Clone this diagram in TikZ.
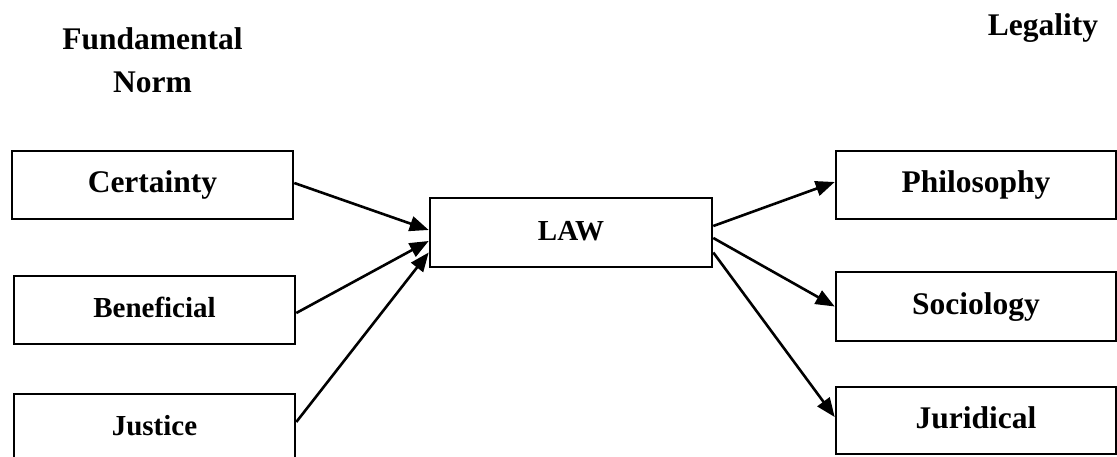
\documentclass[tikz,border=0pt]{standalone}
\usepackage{fontspec}
\setmainfont{Liberation Serif}
\usetikzlibrary{arrows.meta}
\begin{document}
\begin{tikzpicture}[x=1pt,y=-1pt,
  box/.style={draw,line width=2.6pt,inner sep=0pt,minimum width=281pt,minimum height=68pt,
    text height=22pt,text depth=6.5pt,font=\bfseries\fontsize{31.5}{38}\selectfont},
  smallbox/.style={box,font=\bfseries\fontsize{29}{35}\selectfont},
  head/.style={font=\bfseries\fontsize{31.5}{43}\selectfont,align=center},
  link/.style={line width=2.6pt,-{Triangle[length=19pt,width=15pt]}}]
\useasboundingbox (0,0) rectangle (1117,457);
% column headings
\node[head,anchor=base] (fn) at (152.5,93) {Fundamental\\Norm};
\node[head,anchor=base] (leg) at (1043,36) {Legality};
% left column
\node[box] (cert) at (152.5,185) {Certainty};
\node[smallbox] (ben) at (154.5,310) {Beneficial};
\node[smallbox] (just) at (154.5,428) {Justice};
% centre
\node[smallbox,minimum width=282pt,minimum height=69pt] (law) at (571,232.5) {LAW};
% right column
\node[box,minimum width=280pt] (phil) at (976,185) {Philosophy};
\node[box,minimum width=280pt,minimum height=69pt] (soc) at (976,306.5) {Sociology};
\node[box,minimum width=280pt,minimum height=67pt] (jur) at (976,420.5) {Juridical};
% connectors
\draw[link] ([yshift=2pt]cert.east) -- ([yshift=2.5pt]law.west);
\draw[link] ([yshift=-3pt]ben.east) -- ([yshift=-8.5pt]law.west);
\draw[link] ([yshift=6pt]just.east) -- ([yshift=-20pt]law.west);
\draw[link] ([yshift=6.5pt]law.east) -- ([yshift=3pt]phil.west);
\draw[link] ([yshift=-5.5pt]law.east) -- (soc.west);
\draw[link] ([yshift=-20pt]law.east) -- ([yshift=3.5pt]jur.west);
\end{tikzpicture}
\end{document}
